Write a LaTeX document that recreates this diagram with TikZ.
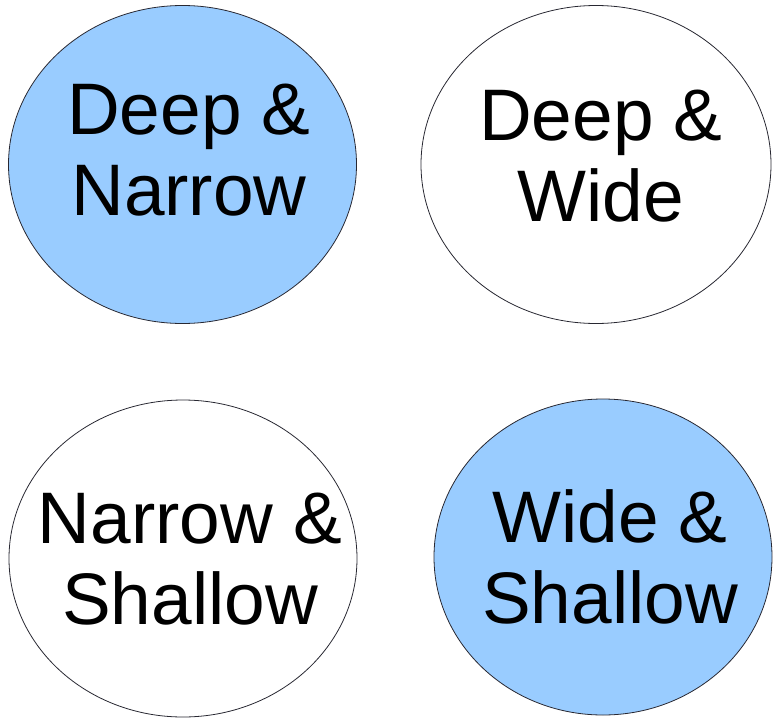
\documentclass[tikz,border=0pt]{standalone}
\usepackage{fontspec}
\setmainfont{Liberation Sans}
\definecolor{SoftBlue}{RGB}{153,204,255}
\definecolor{RimGray}{RGB}{40,40,50}
\usetikzlibrary{shapes.geometric}

\begin{document}
\begin{tikzpicture}[x=1pt, y=-1pt,
	blob/.style={ellipse, draw=RimGray, line width=0.8pt, fill=white,
		minimum width=348pt, minimum height=318pt, inner sep=0pt},
	fullblob/.style={blob, fill=SoftBlue},
	lbl/.style={align=center, inner sep=0pt, font=\fontsize{73}{81}\selectfont}]

	\useasboundingbox (0,0) rectangle (774,718);

	% the four quadrants
	\node[fullblob] (dn) at (182.5,164.5) {};
	\node[blob, minimum width=350pt] (dw) at (596,164.5) {};
	\node[blob, minimum height=317pt] (ns) at (183,558.5) {};
	\node[fullblob, minimum width=338pt, minimum height=316pt] (ws) at (603,557) {};

	\node[lbl] (dn-t) at (189,150.5) {Deep \&\\ Narrow};
	\node[lbl] (dw-t) at (601,156) {Deep \&\\ Wide};
	\node[lbl] (ns-t) at (190,559) {Narrow \&\\ Shallow};
	\node[lbl] (ws-t) at (610,556.5) {Wide \&\\ Shallow};
\end{tikzpicture}
\end{document}
